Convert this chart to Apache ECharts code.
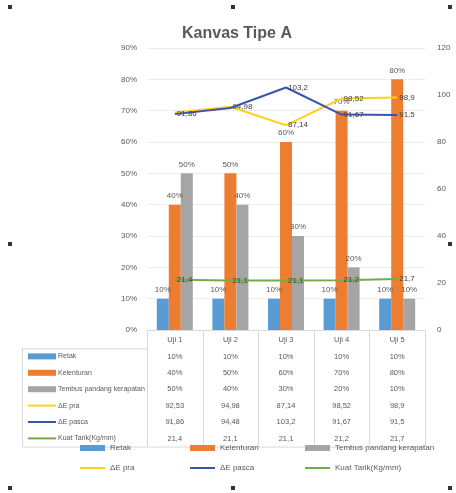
<!DOCTYPE html>
<html><head><meta charset="utf-8">
<script src="https://cdn.jsdelivr.net/npm/echarts@6/dist/echarts.min.js"></script>
<style>html,body{margin:0;padding:0;background:#fff}#c{width:456px;height:493px}</style>
</head><body><div id="c"></div>
<script>
var categories = ['Uji 1', 'Uji 2', 'Uji 3', 'Uji 4', 'Uji 5'];
var retak = [10, 10, 10, 10, 10];
var kelenturan = [40, 50, 60, 70, 80];
var tembus = [50, 40, 30, 20, 10];
var dePra = [92.53, 94.98, 87.14, 98.52, 98.9];
var dePasca = [91.86, 94.48, 103.2, 91.67, 91.5];
var kuatTarik = [21.4, 21.1, 21.1, 21.2, 21.7];
var leftTicks = {min: 0, max: 90, interval: 10};
var rightTicks = {min: 0, max: 120, interval: 20};

var names = ['Retak', 'Kelenturan', 'Tembus pandang kerapatan', 'ΔE pra', 'ΔE pasca', 'Kuat Tarik(Kg/mm)'];
var colors = ['#5B9BD5', '#ED7D31', '#A5A5A5', '#FFD21F', '#3A55A8', '#70AD47'];
var values = [retak, kelenturan, tembus, dePra, dePasca, kuatTarik];
var isBar = [true, true, true, false, false, false];
// which point labels are drawn (overlapping ones hidden as in the reference)
var labelHidden = {3: [0], 4: [1]};

function comma(v) { return String(v).replace('.', ','); }
function fmtVal(i, v) { return isBar[i] ? v + '%' : comma(v); }

var G = {left: 147, right: 425, top: 48, bottom: 330};
var rowH = 16.4;
var txt = '#595959';

var series = values.map(function (arr, i) {
  if (isBar[i]) {
    return {
      name: names[i], type: 'bar', data: arr, yAxisIndex: 0,
      barWidth: 12, barGap: '0%', itemStyle: {color: colors[i]},
      label: {show: true, position: 'top', fontSize: 8, color: txt, formatter: function (p) { return p.value + '%'; }}
    };
  }
  var hid = labelHidden[i] || [];
  return {
    name: names[i], type: 'line', yAxisIndex: 1,
    data: arr.map(function (v, j) { return hid.indexOf(j) >= 0 ? {value: v, label: {show: false}} : v; }),
    symbol: 'circle', symbolSize: 0, showSymbol: true,
    lineStyle: {color: colors[i], width: 2}, itemStyle: {color: colors[i]},
    label: {show: true, position: 'right', distance: 2, fontSize: 8, color: '#404040', formatter: function (p) { return comma(p.value); }},
    z: 5 + i
  };
});

var graphics = [];
values.forEach(function (arr, i) {
  var y = G.bottom + 10 + (i + 1) * rowH;
  if (isBar[i]) {
    graphics.push({type: 'rect', shape: {x: 28, y: y - 3, width: 28, height: 6}, style: {fill: colors[i]}});
  } else {
    graphics.push({type: 'line', shape: {x1: 28, y1: y, x2: 56, y2: y}, style: {stroke: colors[i], lineWidth: 2}});
  }
  graphics.push({type: 'text', x: 58, y: y, style: {text: names[i], fontSize: 7, fill: txt, verticalAlign: 'middle', fontFamily: 'Liberation Sans'}});
});
var colW = (G.right - G.left) / categories.length;
var tableBottom = G.bottom + 10 + values.length * rowH + rowH / 2;
for (var k = 0; k <= categories.length; k++) {
  var x = Math.round(G.left + k * colW) + 0.5;
  graphics.push({type: 'line', shape: {x1: x, y1: G.bottom, x2: x, y2: tableBottom}, style: {stroke: '#D9D9D9', lineWidth: 1}});
}
graphics.push({type: 'line', shape: {x1: 22, y1: G.bottom + 10 + rowH / 2 + 0.5, x2: G.left, y2: G.bottom + 10 + rowH / 2 + 0.5}, style: {stroke: '#D9D9D9', lineWidth: 1}});
graphics.push({type: 'line', shape: {x1: 22.5, y1: G.bottom + 10 + rowH / 2, x2: 22.5, y2: tableBottom}, style: {stroke: '#D9D9D9', lineWidth: 1}});
graphics.push({type: 'line', shape: {x1: 22, y1: tableBottom + 0.5, x2: G.right, y2: tableBottom + 0.5}, style: {stroke: '#D9D9D9', lineWidth: 1}});
[[10, 7], [233, 7], [450, 7], [10, 244], [450, 244], [10, 488], [233, 488], [450, 488]].forEach(function (p) {
  graphics.push({type: 'rect', shape: {x: p[0] - 2, y: p[1] - 2, width: 4, height: 4}, style: {fill: '#333'}});
});

var legPos = [[75, 439], [185, 439], [300, 439], [75, 459], [185, 459], [300, 459]];
var legends = names.map(function (n, i) {
  return {
    left: legPos[i][0], top: legPos[i][1], data: [{name: n, icon: 'rect'}],
    itemWidth: 25, itemHeight: isBar[i] ? 6 : 2, itemGap: 2,
    textStyle: {fontSize: 8, color: txt, fontFamily: 'Liberation Sans'}, selectedMode: false
  };
});

var chart = echarts.init(document.getElementById('c'));
chart.setOption({
  backgroundColor: '#fff',
  animation: false,
  textStyle: {fontFamily: 'Liberation Sans'},
  title: {text: 'Kanvas Tipe A', left: 177, top: 21, textStyle: {fontSize: 16, fontWeight: 'bold', color: '#595959', fontFamily: 'Liberation Sans'}},
  legend: legends,
  grid: {left: G.left, right: 456 - G.right, top: G.top, bottom: 493 - G.bottom, containLabel: false},
  xAxis: {
    type: 'category', data: categories,
    axisLine: {show: true, lineStyle: {color: '#D9D9D9'}}, axisTick: {show: false},
    axisLabel: {
      interval: 0, margin: 2, fontSize: 7.5, color: txt, lineHeight: rowH,
      formatter: function (v, idx) {
        var lines = [v];
        values.forEach(function (arr, i) { lines.push(fmtVal(i, arr[idx])); });
        return lines.join('\n');
      }
    }
  },
  yAxis: [
    {type: 'value', min: leftTicks.min, max: leftTicks.max, interval: leftTicks.interval,
     axisLabel: {formatter: '{value}%', fontSize: 8, color: txt, margin: 10},
     axisLine: {show: false}, axisTick: {show: false}, splitLine: {lineStyle: {color: '#EDEDED'}}},
    {type: 'value', min: rightTicks.min, max: rightTicks.max, interval: rightTicks.interval,
     axisLabel: {fontSize: 8, color: txt, margin: 12},
     axisLine: {show: false}, axisTick: {show: false}, splitLine: {show: false}}
  ],
  series: series,
  graphic: graphics
});
</script></body></html>
